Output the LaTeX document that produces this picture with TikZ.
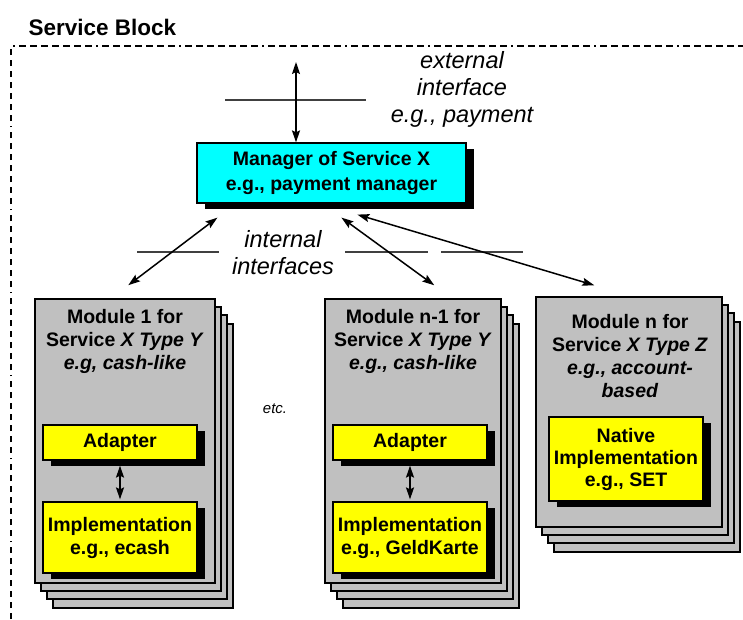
\documentclass[tikz,border=0pt]{standalone}
\usepackage{fontspec}
\setmainfont{Liberation Sans}
\usetikzlibrary{arrows.meta,shadows,positioning}
\tikzset{>={Stealth[length=12pt,width=8pt,inset=2pt]}}
\definecolor{mgrcyan}{HTML}{00FFFF}
\definecolor{implyellow}{HTML}{FFFF00}
\definecolor{modgray}{HTML}{C0C0C0}
\definecolor{ifgray}{HTML}{404040}
\tikzset{
  boldtxt/.style={font=\bfseries\fontsize{19.5}{23}\selectfont},
  ittxt/.style={font=\itshape\fontsize{23.5}{27}\selectfont},
  stack/.style={draw, line width=1.5pt, fill=modgray, inner sep=0pt,
    copy shadow={shadow xshift=18pt, shadow yshift=-25pt, draw=black, fill=modgray},
    copy shadow={shadow xshift=12pt, shadow yshift=-16pt, draw=black, fill=modgray},
    copy shadow={shadow xshift=6pt, shadow yshift=-8pt, draw=black, fill=modgray}},
  ybox/.style={draw, line width=1.2pt, fill=implyellow, inner sep=0pt, align=center, boldtxt,
    drop shadow={shadow xshift=8pt, shadow yshift=-6pt, fill=black, opacity=1}},
  iface/.style={ifgray, line width=2pt},
  link/.style={<->, line width=1.5pt}
}

\begin{document}
\begin{tikzpicture}[x=1pt,y=-1pt]
        \useasboundingbox (0,0) rectangle (743,619);
        \node[anchor=base west, font=\bfseries\fontsize{22.5}{26}\selectfont] (title) at (25,35) {Service Block};
        \draw[line width=2pt, dash pattern={on 6.5pt off 4.5pt on 6.5pt off 4.5pt on 6.5pt off 4.5pt on 6.5pt off 4.5pt on 6.5pt off 4.5pt on 6.5pt off 4.5pt on 6.5pt off 4.5pt on 1.5pt off 4.5pt}]
          (11,619) -- (11,46) -- (743,46);
        % manager and external interface
        \node[ybox, fill=mgrcyan, minimum width=269pt, minimum height=60pt,
          font=\bfseries\fontsize{19.5}{25}\selectfont] (mgr) at (331.5,173) {Manager of Service X\\e.g., payment manager};
        \coordinate (ext) at (296,62);
        \draw[iface] (225,100) -- (366,100);
        \draw[link] (ext) -- (ext |- mgr.north);
        \node[ittxt, align=center, anchor=north, inner sep=0pt] (extlbl) at (462,51) {external\\interface\\e.g., payment};
        % modules
        \node[stack, minimum width=180pt, minimum height=284pt] (m1) at (125,441) {};
        \node[boldtxt, align=center, anchor=north, inner sep=0pt] (m1lbl) at (125,309) {Module 1 for\\Service \textit{X Type Y}\\\textit{e.g, cash-like}};
        \node[ybox, minimum width=154pt, minimum height=35pt] (a1) at (120,442.5) {Adapter};
        \node[ybox, minimum width=154pt, minimum height=71pt] (i1) at (120,537.5) {Implementation\\e.g., ecash};
        \draw[link] ([yshift=-5pt]a1.south) -- ([yshift=2pt]i1.north);

        \node[stack, minimum width=176pt, minimum height=284pt] (m2) at (413,441) {};
        \node[boldtxt, align=center, anchor=north, inner sep=0pt] (m2lbl) at (413,309) {Module n-1 for\\Service \textit{X Type Y}\\\textit{e.g., cash-like}};
        \node[ybox, minimum width=154pt, minimum height=35pt] (a2) at (410,442.5) {Adapter};
        \node[ybox, minimum width=154pt, minimum height=71pt] (i2) at (410,537.5) {Implementation\\e.g., GeldKarte};
        \draw[link] ([yshift=-5pt]a2.south) -- ([yshift=2pt]i2.north);

        \node[stack, minimum width=186pt, minimum height=230pt] (m3) at (629,412) {};
        \node[boldtxt, align=center, anchor=north, inner sep=0pt] (m3lbl) at (630,314) {Module n for\\Service \textit{X Type Z}\\\textit{e.g., account-}\\\textit{based}};
        \node[ybox, minimum width=154pt, minimum height=84pt, font=\bfseries\fontsize{19.5}{22}\selectfont] (nat) at (626,459) {Native\\Implementation\\e.g., SET};

        \node[anchor=base, font=\itshape\fontsize{15}{18}\selectfont] (etc) at (275,413) {etc.};
        % internal interfaces
        \draw[iface] (137,252) -- (219,252);
        \draw[iface] (345,252) -- (428,252);
        \draw[iface] (441,252) -- (523,252);
        \node[ittxt, align=center, anchor=north, inner sep=0pt] (intlbl) at (283,230) {internal\\interfaces};
        \draw[link] ([xshift=21pt,yshift=-14pt]mgr.south west) -- ([xshift=94pt,yshift=13pt]m1.north west);
        \draw[link] ([xshift=145pt,yshift=-14pt]mgr.south west) -- ([xshift=110pt,yshift=13pt]m2.north west);
        \draw[link] ([xshift=161pt,yshift=-11pt]mgr.south west) -- ([xshift=59pt,yshift=11pt]m3.north west);
      \end{tikzpicture}
\end{document}
